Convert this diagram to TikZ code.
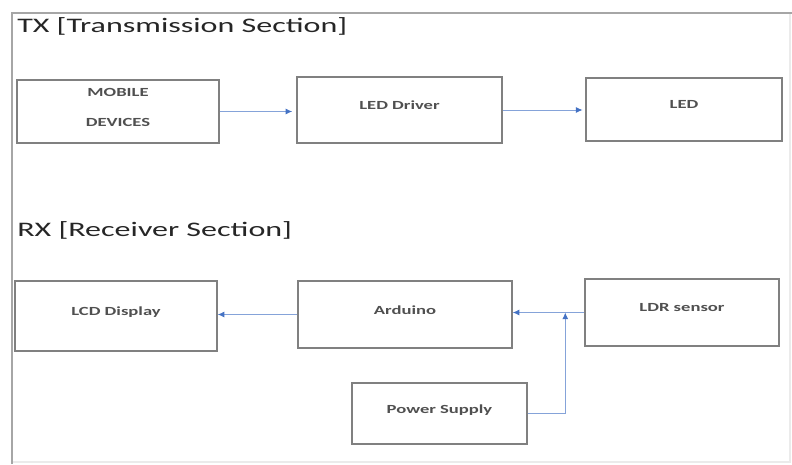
\documentclass[tikz,border=0pt]{standalone}
\usepackage{fontspec}
\setmainfont{Carlito}
\newfontfamily\titlefont[FakeStretch=1.55]{Carlito}
\newfontfamily\boxfont[FakeStretch=1.5]{Carlito}
\usetikzlibrary{arrows.meta,calc}
\definecolor{arrowblue}{RGB}{68,114,196}
\definecolor{boxgray}{RGB}{128,128,128}
\definecolor{textgray}{RGB}{80,80,80}

\begin{document}
\begin{tikzpicture}[x=0.75pt, y=-0.75pt,
	blockbox/.style={draw=boxgray, line width=1.1pt, fill=white, inner sep=0pt},
	boxtext/.style={font=\boxfont\bfseries\fontsize{9.3}{11}\selectfont, text=textgray, align=center, inner sep=0pt},
	sectitle/.style={font=\titlefont\fontsize{15.5}{18}\selectfont, text=black!85, inner sep=0pt, anchor=base west},
	flow/.style={draw=arrowblue!65, line width=0.7pt, -{Latex[length=5pt,width=4.5pt,color=arrowblue]}}]
	\useasboundingbox (0,0) rectangle (792,464);

	% page frame
	\draw[black!8, line width=0.8pt] (790,13) -- (790,462) -- (12,462);
	\draw[black!35, line width=2pt] (12,464) -- (12,13) -- (792,13);

	% TX
	\node[sectitle] (txtitle) at (17,32) {TX [Transmission Section]};
	\node[blockbox, minimum width=151.5pt, minimum height=47.25pt,
		label={[boxtext, yshift=3pt]center:MOBILE\\[11.5pt]DEVICES}] (mob) at (118,111.5) {};
	\node[blockbox, minimum width=153.75pt, minimum height=49.5pt,
		label={[boxtext, yshift=3.5pt]center:LED Driver}] (drv) at (399.5,110) {};
	\node[blockbox, minimum width=147pt, minimum height=47.25pt,
		label={[boxtext, yshift=3.5pt]center:LED}] (led) at (684,109.5) {};

	\draw[flow, shorten >=3pt] (mob.east) -- (mob.east -| drv.west);
	\draw[flow, shorten >=2pt] (drv.east) -- (drv.east -| led.west);

	% RX
	\node[sectitle] (rxtitle) at (17,236) {RX [Receiver Section]};
	\node[blockbox, minimum width=151.5pt, minimum height=52.5pt,
		label={[boxtext, yshift=3pt]center:LCD Display}] (lcd) at (116,316) {};
	\node[blockbox, minimum width=160.5pt, minimum height=50.25pt,
		label={[boxtext, yshift=3.5pt]center:Arduino}] (ard) at (405,314.5) {};
	\node[blockbox, minimum width=145.5pt, minimum height=50.25pt,
		label={[boxtext, yshift=3.5pt]center:LDR sensor}] (ldr) at (682,312.5) {};
	\node[blockbox, minimum width=131.25pt, minimum height=45.75pt,
		label={[boxtext, yshift=2.5pt]center:Power Supply}] (psu) at (439.5,413.5) {};
	\coordinate (tap) at ($(ldr.west)+(-19,0)$);

	\draw[flow] (ard.west) -- (ard.west -| lcd.east);
	\draw[flow] (ldr.west) -- (ldr.west -| ard.east);
	\draw[flow] (psu.east) -| (tap);
\end{tikzpicture}
\end{document}
